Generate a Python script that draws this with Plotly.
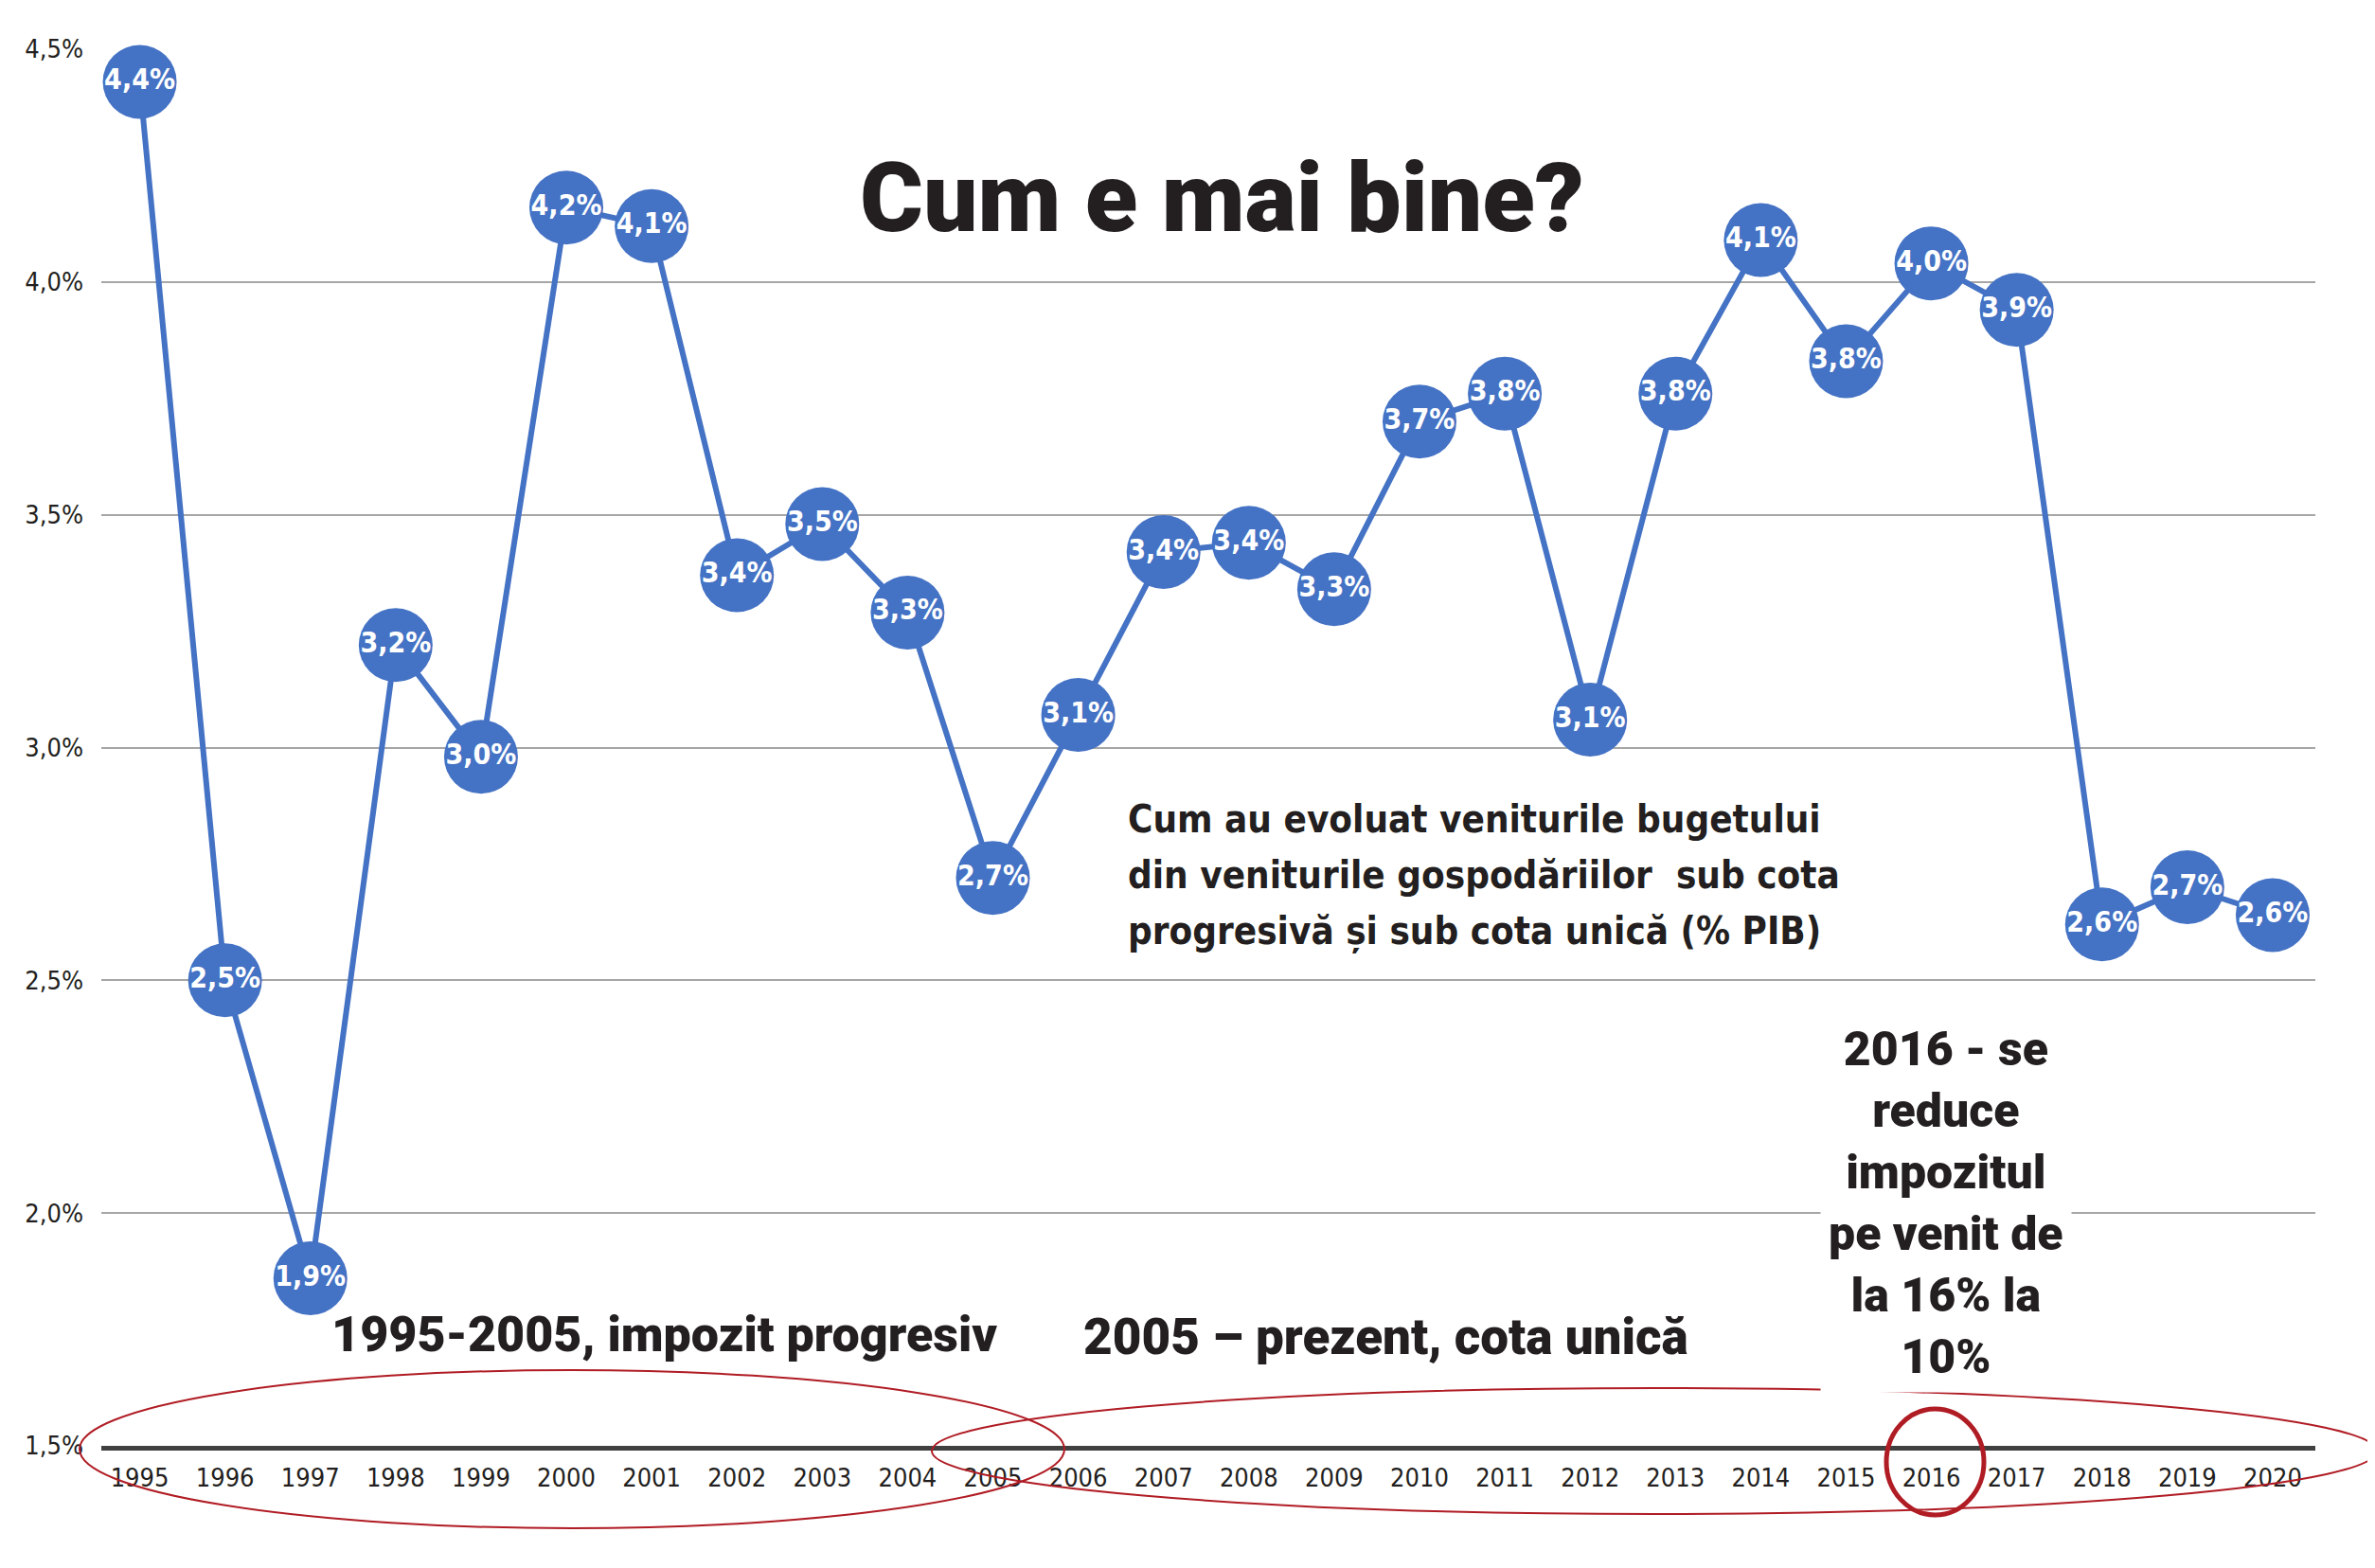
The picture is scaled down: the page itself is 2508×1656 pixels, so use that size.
import plotly.graph_objects as go

# Venituri din impozitul pe venit (% PIB)
years = [str(y) for y in range(1995, 2021)]
values = [4.43, 2.50, 1.86, 3.22, 2.98, 4.16, 4.12, 3.37, 3.48, 3.29,
          2.72, 3.07, 3.42, 3.44, 3.34, 3.70, 3.76, 3.06, 3.76, 4.09,
          3.83, 4.04, 3.94, 2.62, 2.70, 2.64]
point_labels = [f"{v:.1f}".replace(".", ",") + "%" for v in values]
y_ticks = [1.5, 2.0, 2.5, 3.0, 3.5, 4.0, 4.5]
y_ticktext = [f"{v:.1f}".replace(".", ",") + "%" for v in y_ticks]

subtitle_lines = [
    "Cum au evoluat veniturile bugetului",
    "din veniturile gospodăriilor  sub cota",
    "progresivă și sub cota unică (% PIB)",
]

BLUE = "#4472c4"
RED = "#b01c24"
INK = "#231f20"
NARROW = "DejaVu Sans Condensed, Liberation Sans Narrow, sans-serif"
HEAVY = "Roboto, Liberation Sans, sans-serif"

W, H = 2508, 1656
L, R, T, B = 99, 71, 44, 137
pw, ph = W - L - R, H - T - B
DX, DY = -8, -7  # corectie pentru pozitiile


def px_x(x):
    return (x + DX - L) / pw


def px_y(y):
    return (H - B - (y + DY)) / ph


fig = go.Figure()
fig.add_trace(go.Scatter(
    x=years, y=values,
    mode="lines+markers+text",
    line=dict(color=BLUE, width=6),
    marker=dict(size=78, color=BLUE, line=dict(width=0)),
    text=point_labels,
    textposition="middle center",
    textfont=dict(family=NARROW, size=30, color="white", weight="bold"),
    cliponaxis=False,
    hoverinfo="x+y",
))

# elipsele rosii
ellipses = [
    (84, 1446, 1124, 1613, 2),
    (984, 1465, 2510, 1598, 2),
    (1992, 1487, 2095, 1599, 5),
]
for x0, y0, x1, y1, w in ellipses:
    fig.add_shape(type="circle", xref="paper", yref="paper",
                  x0=px_x(x0), x1=px_x(x1), y0=px_y(y1), y1=px_y(y0),
                  line=dict(color=RED, width=w), layer="above")

fig.add_annotation(
    text="Cum e mai bine?", xref="paper", yref="paper",
    x=px_x(1290), y=px_y(208), xanchor="center", yanchor="middle",
    showarrow=False,
    font=dict(family=HEAVY, size=102, color=INK, weight=900),
)
for i, line in enumerate(subtitle_lines):
    fig.add_annotation(
        text=line, xref="paper", yref="paper",
        x=px_x(1189), y=px_y(864 + i * 59),
        xanchor="left", yanchor="middle", align="left", showarrow=False,
        font=dict(family=NARROW, size=40, color=INK, weight="bold"),
    )
fig.add_annotation(
    text="1995-2005, impozit progresiv", xref="paper", yref="paper",
    x=px_x(701), y=px_y(1408), xanchor="center", yanchor="middle",
    showarrow=False,
    font=dict(family=HEAVY, size=52, color=INK, weight=900),
)
fig.add_annotation(
    text="2005 – prezent, cota unică", xref="paper", yref="paper",
    x=px_x(1463), y=px_y(1411), xanchor="center", yanchor="middle",
    showarrow=False,
    font=dict(family=HEAVY, size=53, color=INK, weight=900),
)
fig.add_annotation(
    text="2016 - se<br>reduce<br>impozitul<br>pe venit de<br>la 16% la<br>10%",
    xref="paper", yref="paper", x=px_x(2055), y=px_y(1269),
    xanchor="center", yanchor="middle", align="center", showarrow=False,
    bgcolor="white", borderpad=8,
    font=dict(family=HEAVY, size=50, color=INK, weight=900),
)

fig.update_layout(
    width=W, height=H,
    margin=dict(l=L, r=R, t=T, b=B),
    paper_bgcolor="white", plot_bgcolor="white",
    showlegend=False,
    xaxis=dict(
        type="category", range=[-0.45, 25.5],
        showgrid=False, showline=True, linecolor="#404040", linewidth=5,
        ticks="", ticklabelstandoff=6,
        tickfont=dict(family=NARROW, size=27, color=INK),
    ),
    yaxis=dict(
        range=[1.5, 4.5], tickmode="array", tickvals=y_ticks,
        ticktext=y_ticktext,
        showgrid=True, gridcolor="#a6a6a6", gridwidth=2,
        zeroline=False, showline=False, ticks="", ticklabelstandoff=18,
        tickfont=dict(family=NARROW, size=27, color=INK),
    ),
)

fig.write_html("out.html")
